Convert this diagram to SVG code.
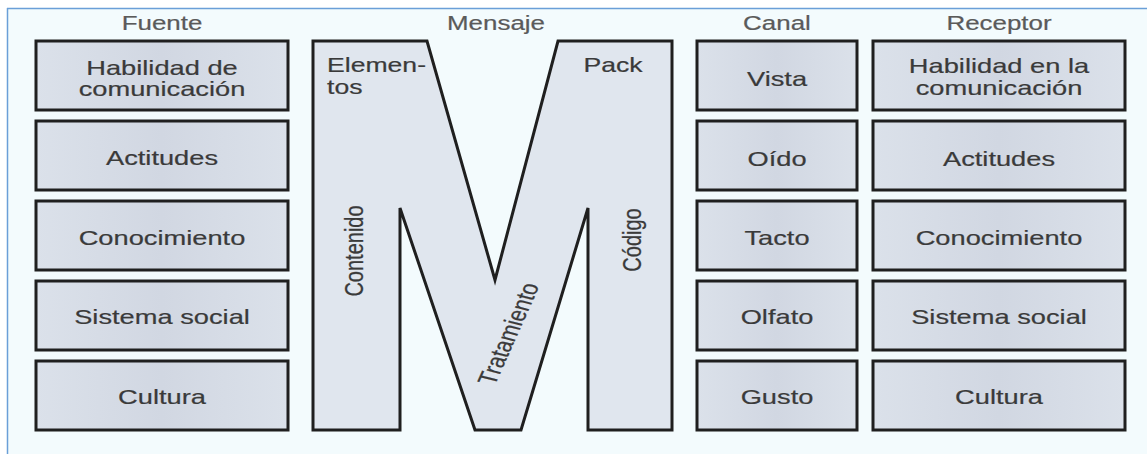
<svg xmlns="http://www.w3.org/2000/svg" width="1147" height="454" viewBox="0 0 1147 454">
  <style>
    .box { fill: url(#boxShade); stroke: #1f1f1f; stroke-width: 3; }
    .m { fill: #e0e6ee; stroke: #1f1f1f; stroke-width: 3; stroke-linejoin: miter; }
    .lbl { font-family: "Liberation Sans", Arial, sans-serif; font-size: 20.5px; fill: #3a3a3a; stroke: #3a3a3a; stroke-width: 0.2; text-anchor: middle; }
    .hdr { font-family: "Liberation Sans", Arial, sans-serif; font-size: 19.5px; fill: #5a5a5a; stroke: #5a5a5a; stroke-width: 0.2; text-anchor: middle; }
    .mt { font-family: "Liberation Sans", Arial, sans-serif; font-size: 20px; fill: #3a3a3a; stroke: #3a3a3a; stroke-width: 0.2; }
  </style>
  <defs>
    <linearGradient id="boxShade" x1="0" y1="0" x2="1" y2="0">
      <stop offset="0" stop-color="#dbe1ea"/>
      <stop offset="0.5" stop-color="#d1d7e2"/>
      <stop offset="1" stop-color="#dbe1ea"/>
    </linearGradient>
  </defs>

  <!-- page and frame -->
  <rect x="0" y="0" width="1147" height="454" fill="#ffffff"/>
  <rect x="7" y="8" width="1140" height="446" fill="#f3fbfd"/>
  <line x1="7" y1="8.5" x2="1147" y2="8.5" stroke="#6a9fd8" stroke-width="1.5"/>
  <line x1="7.5" y1="8" x2="7.5" y2="454" stroke="#6a9fd8" stroke-width="1.5"/>

  <!-- column headings -->
  <g id="headings">
    <text class="hdr" transform="translate(162,30) scale(1.33,1)">Fuente</text>
    <text class="hdr" transform="translate(496,30) scale(1.33,1)">Mensaje</text>
    <text class="hdr" transform="translate(777,30) scale(1.33,1)">Canal</text>
    <text class="hdr" transform="translate(999,30) scale(1.33,1)">Receptor</text>
  </g>

  <!-- Fuente column -->
  <g id="fuente-habilidad">
    <rect class="box" x="36" y="41" width="252" height="69"/>
    <text class="lbl" transform="translate(162,75) scale(1.33,1)"><tspan x="0" y="0">Habilidad de</tspan><tspan x="0" y="21">comunicación</tspan></text>
  </g>
  <g id="fuente-actitudes">
    <rect class="box" x="36" y="121" width="252" height="69"/>
    <text class="lbl" transform="translate(162,165) scale(1.33,1)">Actitudes</text>
  </g>
  <g id="fuente-conocimiento">
    <rect class="box" x="36" y="201" width="252" height="69"/>
    <text class="lbl" transform="translate(162,245) scale(1.33,1)">Conocimiento</text>
  </g>
  <g id="fuente-sistema">
    <rect class="box" x="36" y="281" width="252" height="69"/>
    <text class="lbl" transform="translate(162,324) scale(1.33,1)">Sistema social</text>
  </g>
  <g id="fuente-cultura">
    <rect class="box" x="36" y="361" width="252" height="69"/>
    <text class="lbl" transform="translate(162,404) scale(1.33,1)">Cultura</text>
  </g>

  <!-- Mensaje: the big M -->
  <g id="mensaje">
    <polygon class="m" points="313,41 427,41 495,280 558,41 672,41 672,430 588,430 588,208 521,430 475,430 400,208 400,430 313,430"/>
    <text class="mt" transform="translate(327,72) scale(1.33,1)"><tspan x="0" y="0">Elemen-</tspan><tspan x="0" y="22">tos</tspan></text>
    <text class="mt" text-anchor="middle" transform="translate(613,72) scale(1.33,1)">Pack</text>
    <text class="mt" text-anchor="middle" transform="translate(363,251) scale(1.33,1) rotate(-90)">Contenido</text>
    <text class="mt" text-anchor="middle" transform="translate(641,240) scale(1.33,1) rotate(-90)">Código</text>
    <text class="mt" text-anchor="middle" transform="translate(517,336) scale(1.33,1) rotate(-71.4)">Tratamiento</text>
  </g>

  <!-- Canal column -->
  <g id="canal-vista">
    <rect class="box" x="697" y="41" width="160" height="69"/>
    <text class="lbl" transform="translate(777,86) scale(1.33,1)">Vista</text>
  </g>
  <g id="canal-oido">
    <rect class="box" x="697" y="121" width="160" height="69"/>
    <text class="lbl" transform="translate(777,166) scale(1.33,1)">Oído</text>
  </g>
  <g id="canal-tacto">
    <rect class="box" x="697" y="201" width="160" height="69"/>
    <text class="lbl" transform="translate(777,245) scale(1.33,1)">Tacto</text>
  </g>
  <g id="canal-olfato">
    <rect class="box" x="697" y="281" width="160" height="69"/>
    <text class="lbl" transform="translate(777,324) scale(1.33,1)">Olfato</text>
  </g>
  <g id="canal-gusto">
    <rect class="box" x="697" y="361" width="160" height="69"/>
    <text class="lbl" transform="translate(777,404) scale(1.33,1)">Gusto</text>
  </g>

  <!-- Receptor column -->
  <g id="receptor-habilidad">
    <rect class="box" x="873" y="41" width="252" height="69"/>
    <text class="lbl" transform="translate(999,73) scale(1.33,1)"><tspan x="0" y="0">Habilidad en la</tspan><tspan x="0" y="22">comunicación</tspan></text>
  </g>
  <g id="receptor-actitudes">
    <rect class="box" x="873" y="121" width="252" height="69"/>
    <text class="lbl" transform="translate(999,166) scale(1.33,1)">Actitudes</text>
  </g>
  <g id="receptor-conocimiento">
    <rect class="box" x="873" y="201" width="252" height="69"/>
    <text class="lbl" transform="translate(999,245) scale(1.33,1)">Conocimiento</text>
  </g>
  <g id="receptor-sistema">
    <rect class="box" x="873" y="281" width="252" height="69"/>
    <text class="lbl" transform="translate(999,324) scale(1.33,1)">Sistema social</text>
  </g>
  <g id="receptor-cultura">
    <rect class="box" x="873" y="361" width="252" height="69"/>
    <text class="lbl" transform="translate(999,404) scale(1.33,1)">Cultura</text>
  </g>

  <!-- no connectors in this figure -->
  <g id="connectors"/>
</svg>
